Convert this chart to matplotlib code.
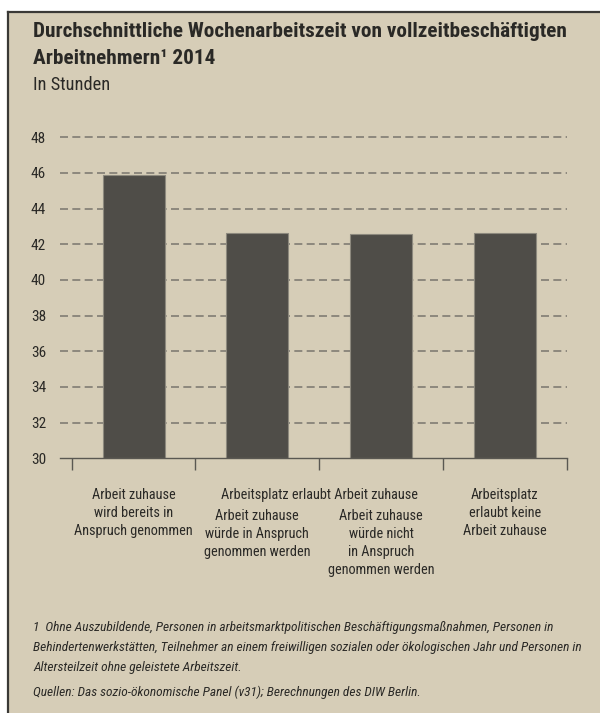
import matplotlib
matplotlib.use("Agg")
import matplotlib.pyplot as plt
from matplotlib import font_manager as fm
import matplotlib.transforms as mtransforms
from matplotlib.patches import Rectangle
from matplotlib.lines import Line2D

# ---------------- data ----------------
categories = [
    "Arbeit zuhause\nwird bereits in\nAnspruch genommen",
    "Arbeit zuhause\nwürde in Anspruch\ngenommen werden",
    "Arbeit zuhause\nwürde nicht\nin Anspruch\ngenommen werden",
    "Arbeitsplatz\nerlaubt keine\nArbeit zuhause",
]
label_row = [0, 1, 1, 0]          # 0 = top row, 1 = below the group header
group_header = "Arbeitsplatz erlaubt Arbeit zuhause"
values = [45.9, 42.65, 42.6, 42.65]
yticks = [30, 32, 34, 36, 38, 40, 42, 44, 46, 48]

title_1 = "Durchschnittliche Wochenarbeitszeit von vollzeitbeschäftigten"
title_2 = "Arbeitnehmern¹ 2014"
subtitle = "In Stunden"
footnote = ("1  Ohne Auszubildende, Personen in arbeitsmarktpolitischen Beschäftigungsmaßnahmen, Personen in\n"
            "Behindertenwerkstätten, Teilnehmer an einem freiwilligen sozialen oder ökologischen Jahr und Personen in\n"
            "Altersteilzeit ohne geleistete Arbeitszeit.")
source = "Quellen: Das sozio-ökonomische Panel (v31); Berechnungen des DIW Berlin."

# ---------------- fonts ----------------
def pick(cands):
    for c in cands:
        try:
            fm.findfont(fm.FontProperties(family=c), fallback_to_default=False)
            return c
        except Exception:
            pass
    return "DejaVu Sans"

narrow = pick(["Liberation Sans Narrow", "DejaVu Sans Condensed", "Roboto Condensed", "Open Sans Condensed", "Roboto"])
plt.rcParams["font.family"] = [narrow, "DejaVu Sans"]

BG = "#d6cdb7"
TXT = "#2a2926"
BAR = "#4f4d48"
GRID = "#807c73"

fig = plt.figure(figsize=(6.0, 7.13), dpi=100)
fig.patch.set_facecolor(BG)
W, H = 600, 713

# white margins (top and left) and border lines
fig.patches.append(Rectangle((0, 1 - 12 / H), 1, 12 / H, transform=fig.transFigure,
                             facecolor="white", edgecolor="none", zorder=-5))
fig.patches.append(Rectangle((0, 0), 8 / W, 1, transform=fig.transFigure,
                             facecolor="white", edgecolor="none", zorder=-5))
fig.add_artist(Line2D([8 / W, 8 / W], [0, 1 - 12 / H], transform=fig.transFigure, color="#3a3936", lw=1.6))
fig.add_artist(Line2D([8 / W, 1], [1 - 12 / H, 1 - 12 / H], transform=fig.transFigure, color="#3a3936", lw=1.6))

# axes
y_bottom = 458.3
y48 = 137.3
ppu = (y_bottom - y48) / 18.0
ytop = 49.0
top_px = y_bottom - (ytop - 30) * ppu
left_px, right_px = 60.0, 566.7
ax = fig.add_axes([left_px / W, 1 - y_bottom / H, (right_px - left_px) / W, (y_bottom - top_px) / H])
ax.set_facecolor("none")

x = list(range(len(values)))
ax.bar(x, [v - 30 for v in values], bottom=30, width=0.5, color=BAR, edgecolor="#8d897e", linewidth=0.8, zorder=3)
ax.set_xlim(-0.595, 3.5)
ax.set_ylim(30, ytop)

ax.set_yticks(yticks)
ax.set_yticklabels([str(t) for t in yticks], fontsize=11, color=TXT)
ax.tick_params(axis="y", length=0, pad=10)
for t in yticks[1:]:
    ax.axhline(t, color=GRID, lw=1.2, ls=(0, (4.8, 2.6)), zorder=1)

for s in ["top", "right", "left"]:
    ax.spines[s].set_visible(False)
ax.spines["bottom"].set_color("#5a5852")
ax.spines["bottom"].set_linewidth(1.0)
ax.spines["bottom"].set_zorder(4)

bounds = [i - 0.5 for i in range(len(values) + 1)]
ax.set_xticks(bounds)
ax.set_xticklabels([""] * len(bounds))
ax.tick_params(axis="x", direction="out", length=8.4, width=1.0, color="#5a5852")

trans = mtransforms.blended_transform_factory(ax.transData, fig.transFigure)
row_y = [1 - 488 / H, 1 - 509 / H]
for xi, lab, r in zip(x, categories, label_row):
    ax.text(xi, row_y[r], lab, transform=trans, ha="center", va="top", fontsize=10.3,
            color=TXT, linespacing=1.36)
ax.text(1.5, row_y[0], group_header, transform=trans, ha="center", va="top", fontsize=10.3, color=TXT)

# titles
fig.text(33 / W, 1 - 22 / H, title_1, ha="left", va="top", fontsize=15.3, fontweight="bold", color=TXT)
fig.text(33 / W, 1 - 49 / H, title_2, ha="left", va="top", fontsize=15.3, fontweight="bold", color=TXT)
fig.text(33 / W, 1 - 76 / H, subtitle, ha="left", va="top", fontsize=13.2, color=TXT)

fig.text(33 / W, 1 - 621 / H, footnote, ha="left", va="top", fontsize=9.6, style="italic",
         color=TXT, linespacing=1.72)
fig.text(33 / W, 1 - 686 / H, source, ha="left", va="top", fontsize=9.6, style="italic", color=TXT)

fig.savefig("out.png", dpi=100, facecolor=fig.get_facecolor())
